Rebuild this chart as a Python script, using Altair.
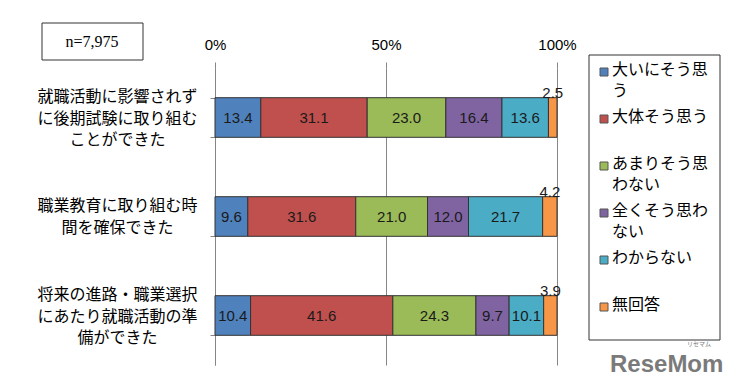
import altair as alt
import pandas as pd

questions = [
    "就職活動に影響されず\nに後期試験に取り組む\nことができた",
    "職業教育に取り組む時\n間を確保できた",
    "将来の進路・職業選択\nにあたり就職活動の準\n備ができた",
]
answer_labels = ["大いにそう思\nう", "大体そう思う", "あまりそう思\nわない", "全くそう思わ\nない", "わからない", "無回答"]
colors = ["#4F81BD", "#C0504D", "#9BBB59", "#8064A2", "#4BACC6", "#F79646"]
values = [
    [13.4, 31.1, 23.0, 16.4, 13.6, 2.5],
    [9.6, 31.6, 21.0, 12.0, 21.7, 4.2],
    [10.4, 41.6, 24.3, 9.7, 10.1, 3.9],
]
n_label = "n=7,975"
x_ticks = [0, 0.5, 1]

rows = []
for q, vals in zip(questions, values):
    for i, (a, v) in enumerate(zip(answer_labels, vals)):
        rows.append({"question": q, "answer": a, "value": v, "order": i})
df = pd.DataFrame(rows)
leg_df = pd.DataFrame({"answer": answer_labels, "order": list(range(len(answer_labels)))})

jp = "Noto Sans CJK JP"
color_scale = alt.Scale(domain=answer_labels, range=colors)

base = alt.Chart(df).transform_stack(
    stack="value", groupby=["question"], as_=["v0", "v1"], offset="normalize",
    sort=[alt.SortField("order")]
).transform_calculate(mid="(datum.v0 + datum.v1) / 2")

yenc = alt.Y(
    "question:N", sort=questions,
    scale=alt.Scale(paddingInner=0.6, paddingOuter=0.3),
    axis=alt.Axis(
        title=None, labelExpr="split(datum.label, '\\n')", labelAlign="center",
        labelBaseline="middle", labelPadding=93, labelFont=jp, labelFontSize=16,
        labelLineHeight=21.5,
        labelOffset={"condition": {"test": "length(split(datum.value, '\\n')) > 2", "value": -21},
                     "value": -11},
        labelColor="#000", tickBand="extent", tickSize=5,
        tickColor="#868686", domainColor="#868686", labelLimit=300,
    ),
)

xscale = alt.Scale(domain=[0, 1], nice=False, zero=True)

bars = base.mark_bar(stroke="#333", strokeWidth=1).encode(
    x=alt.X("v0:Q", scale=xscale, axis=alt.Axis(
        orient="top", values=x_ticks, format=".0%", title=None, grid=True,
        gridColor="#868686", domain=False, tickSize=6, tickColor="#868686",
        labelPadding=10, labelFont="Liberation Sans", labelFontSize=15, labelColor="#000",
        labelFlush=False,
    )),
    x2="v1:Q",
    y=yenc,
    color=alt.Color("answer:N", scale=color_scale, legend=None),
    order=alt.Order("order:Q"),
)

inner = base.transform_filter(alt.datum.order < 5).mark_text(
    font="Liberation Sans", fontSize=15, color="#1a1a1a"
).encode(
    x=alt.X("mid:Q", scale=xscale),
    y=alt.Y("question:N", sort=questions),
    text=alt.Text("value:Q", format=".1f"),
)

outer = base.transform_filter(alt.datum.order == 5).mark_text(
    font="Liberation Sans", fontSize=15, color="#1a1a1a", baseline="bottom", dy=-17
).encode(
    x=alt.X("mid:Q", scale=xscale),
    y=alt.Y("question:N", sort=questions),
    text=alt.Text("value:Q", format=".1f"),
)

main = alt.layer(bars, inner, outer)

# legend drawn as marks
leg_y = alt.Y("answer:N", sort=answer_labels,
              scale=alt.Scale(type="point", range=[4, 239], padding=0), axis=None)
leg_box = alt.Chart(pd.DataFrame({"t": ["box"]})).mark_rect(
    fill="white", stroke="#333", strokeWidth=1
).encode(x=alt.value(374), x2=alt.value(505), y=alt.value(-13), y2=alt.value(272))
leg_sym = alt.Chart(leg_df).mark_square(
    size=64, stroke="#555", strokeWidth=1, opacity=1
).encode(
    x=alt.value(389), y=leg_y,
    color=alt.Color("answer:N", scale=color_scale, legend=None),
)
leg_txt = alt.Chart(leg_df).transform_calculate(
    lines="split(datum.answer, '\\n')"
).mark_text(
    font=jp, fontSize=16, lineHeight=21, align="left", baseline="top", dy=-10, color="#000"
).encode(
    x=alt.value(397), y=leg_y, text="lines:N",
)
legend = alt.layer(leg_box, leg_sym, leg_txt)

nbox = alt.Chart(pd.DataFrame({"t": [n_label]})).mark_rect(
    fill="white", stroke="#333", strokeWidth=1
).encode(x=alt.value(-173), x2=alt.value(-72), y=alt.value(-45), y2=alt.value(-8))
ntext = alt.Chart(pd.DataFrame({"t": [n_label]})).mark_text(
    font="Liberation Serif", fontSize=16, color="#000"
).encode(x=alt.value(-123), y=alt.value(-26), text="t:N")

logo = alt.Chart(pd.DataFrame({"t": ["ReseMom"]})).mark_text(
    font="Liberation Sans", fontSize=24, fontWeight="bold", color="#7a7a7a", align="left"
).encode(x=alt.value(395), y=alt.value(297), text="t:N")
logo_small = alt.Chart(pd.DataFrame({"t": ["リセマム"]})).mark_text(
    font=jp, fontSize=6, color="#7a7a7a", align="left"
).encode(x=alt.value(472), y=alt.value(276), text="t:N")

chart = alt.layer(main, legend, nbox, ntext, logo, logo_small).resolve_scale(y="independent").properties(
    width=342, height=297,
    padding={"left": 207, "top": 60, "right": 180, "bottom": 18},
    autosize=alt.AutoSizeParams(type="none"),
).configure_view(stroke=None)

chart.save("out.html", embed_options={"renderer": "svg", "actions": False})
